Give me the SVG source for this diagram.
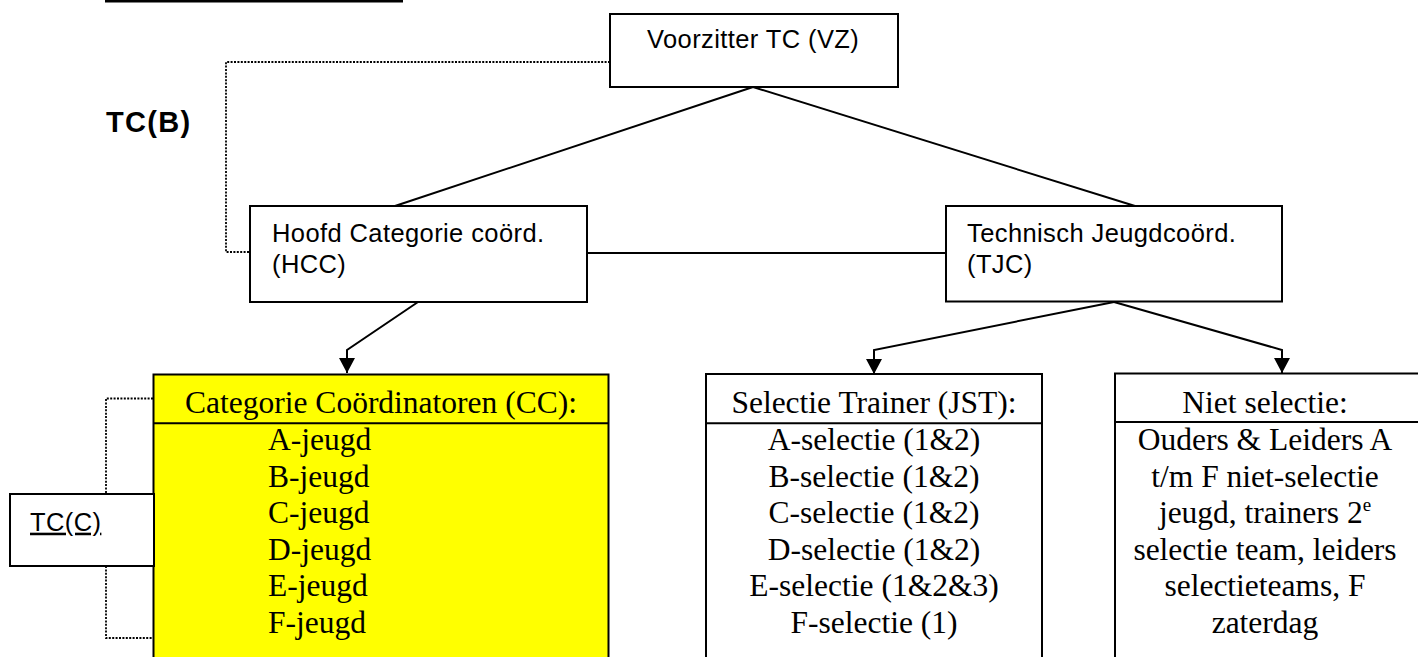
<svg xmlns="http://www.w3.org/2000/svg" width="1418" height="657" viewBox="0 0 1418 657">
<style>
.box{fill:#fff;stroke:#000;stroke-width:2}
.ybox{fill:#ffff00;stroke:#000;stroke-width:2}
.sans{font-family:"Liberation Sans",Arial,sans-serif;font-size:25.5px;letter-spacing:0.4px;fill:#000}
.serif{font-family:"Liberation Serif","Times New Roman",serif;font-size:31.5px;fill:#000}
.mid{text-anchor:middle}
.conn{fill:none;stroke:#000;stroke-width:2}
.dot{fill:none;stroke:#000;stroke-width:1.8;stroke-dasharray:2 1.4}
.sep{stroke:#000;stroke-width:2}
</style>
<defs>
<marker id="arr" markerUnits="userSpaceOnUse" markerWidth="15" markerHeight="16" viewBox="0 0 15 16" refX="15" refY="8" orient="auto">
<path d="M0,0 L15,8 L0,16 Z" fill="#000"/>
</marker>
</defs>

<line x1="105" y1="1.2" x2="403" y2="1.2" stroke="#000" stroke-width="2.5"/>
<text x="106" y="132" style="font-family:'Liberation Sans',Arial,sans-serif;font-size:29px;font-weight:bold;letter-spacing:1.3px">TC(B)</text>

<g id="connectors">
<polyline class="dot" points="610,62 226,62 226,252 250,252"/>
<polyline class="dot" points="153,398.5 106,398.5 106,494"/>
<polyline class="dot" points="106,566 106,638 153,638"/>
<line class="conn" x1="753" y1="87" x2="395" y2="206"/>
<line class="conn" x1="753" y1="87" x2="1135" y2="206"/>
<line class="conn" x1="587" y1="253" x2="946" y2="253"/>
<polyline class="conn" points="418,302 347,350 347,373" marker-end="url(#arr)"/>
<polyline class="conn" points="1114,302 874,350 874,374" marker-end="url(#arr)"/>
<polyline class="conn" points="1114,302 1282,350 1282,373" marker-end="url(#arr)"/>
</g>

<g id="vz">
<rect class="box" x="610" y="14" width="288" height="73"/>
<text class="sans" x="647" y="48">Voorzitter TC (VZ)</text>
</g>

<g id="hcc">
<rect class="box" x="250" y="206" width="337" height="96"/>
<text class="sans" x="272" y="241.7">Hoofd Categorie coörd.</text>
<text class="sans" x="272" y="273.3">(HCC)</text>
</g>

<g id="tjc">
<rect class="box" x="946" y="206" width="336" height="95.5"/>
<text class="sans" x="967" y="241.7">Technisch Jeugdcoörd.</text>
<text class="sans" x="967" y="273.3">(TJC)</text>
</g>

<g id="cc">
<rect class="ybox" x="153.5" y="374.5" width="455" height="300"/>
<line class="sep" x1="153.5" y1="423.3" x2="608.5" y2="423.3"/>
<text class="serif mid" x="381" y="413.3">Categorie Coördinatoren (CC):</text>
<text class="serif" x="268" y="450">A-jeugd</text>
<text class="serif" x="268" y="486.7">B-jeugd</text>
<text class="serif" x="268" y="523">C-jeugd</text>
<text class="serif" x="268" y="559.5">D-jeugd</text>
<text class="serif" x="268" y="596">E-jeugd</text>
<text class="serif" x="268" y="633">F-jeugd</text>
</g>

<g id="tcc">
<rect class="box" x="10" y="494" width="144" height="72"/>
<text class="sans" x="30" y="530.7" text-decoration="underline">TC(C)</text>
</g>

<g id="jst">
<rect class="box" x="706" y="374" width="336" height="300"/>
<line class="sep" x1="706" y1="423.3" x2="1042" y2="423.3"/>
<text class="serif mid" x="874" y="413.3">Selectie Trainer (JST):</text>
<text class="serif mid" x="874" y="450">A-selectie (1&amp;2)</text>
<text class="serif mid" x="874" y="486.7">B-selectie (1&amp;2)</text>
<text class="serif mid" x="874" y="523">C-selectie (1&amp;2)</text>
<text class="serif mid" x="874" y="559.5">D-selectie (1&amp;2)</text>
<text class="serif mid" x="874" y="596">E-selectie (1&amp;2&amp;3)</text>
<text class="serif mid" x="874" y="633">F-selectie (1)</text>
</g>

<g id="niet">
<rect class="box" x="1115" y="373.5" width="320" height="300"/>
<line class="sep" x1="1115" y1="422" x2="1418" y2="422"/>
<text class="serif mid" x="1265" y="413.3">Niet selectie:</text>
<text class="serif mid" x="1265" y="450">Ouders &amp; Leiders A</text>
<text class="serif mid" x="1265" y="486.7">t/m F niet-selectie</text>
<text class="serif mid" x="1265" y="523">jeugd, trainers 2<tspan font-size="19" dy="-12">e</tspan></text>
<text class="serif mid" x="1265" y="559.5">selectie team, leiders</text>
<text class="serif mid" x="1265" y="596">selectieteams, F</text>
<text class="serif mid" x="1265" y="633">zaterdag</text>
</g>
</svg>
